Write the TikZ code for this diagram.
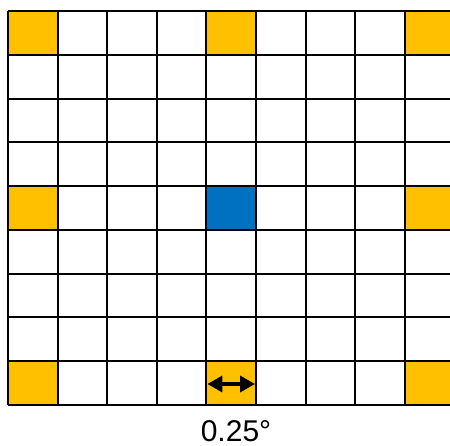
\documentclass[tikz,border=0pt]{standalone}
\usepackage{fontspec}
\setmainfont{Liberation Sans}
\usetikzlibrary{arrows.meta}
\definecolor{gold}{HTML}{FFC000}
\definecolor{bluec}{HTML}{0070C0}
\begin{document}
\begin{tikzpicture}[x=1pt,y=-1pt,
  goldcell/.style={fill=gold},
  bluecell/.style={fill=bluec},
  gridline/.style={draw=black,line width=2pt},
  span/.style={line width=3.5pt,{Triangle[length=15pt,width=16pt]}-{Triangle[length=15pt,width=16pt]}},
  lbl/.style={font=\fontsize{30}{36}\selectfont,inner sep=0pt,text depth=0pt,anchor=base}]
\useasboundingbox (0,0) rectangle (450,445);
\def\cw{49.6}
\def\rh{43.78}
\begin{scope}
\clip (0,0) rectangle (450,445);
\foreach \c in {0,4,8}{
  \foreach \r in {0,4,8}{
    \fill[goldcell] ({8+\c*\cw},{11+\r*\rh}) rectangle ++(\cw,\rh);
  }
}
\fill[bluecell] ({8+4*\cw},{11+4*\rh}) rectangle ++(\cw,\rh);
\foreach \c in {0,...,9}{
  \draw[gridline] ({8+\c*\cw},11) -- ({8+\c*\cw},{11+9*\rh});
}
\foreach \r in {0,...,9}{
  \draw[gridline] (8,{11+\r*\rh}) -- ({8+9*\cw},{11+\r*\rh});
}
\end{scope}
\coordinate (al) at ({8+4*\cw+1},384);
\coordinate (ar) at ({8+5*\cw-1},384);
\draw[span] (al) -- (ar);
\node[lbl] (deg) at (236,441.5) {0.25°};
\end{tikzpicture}
\end{document}
